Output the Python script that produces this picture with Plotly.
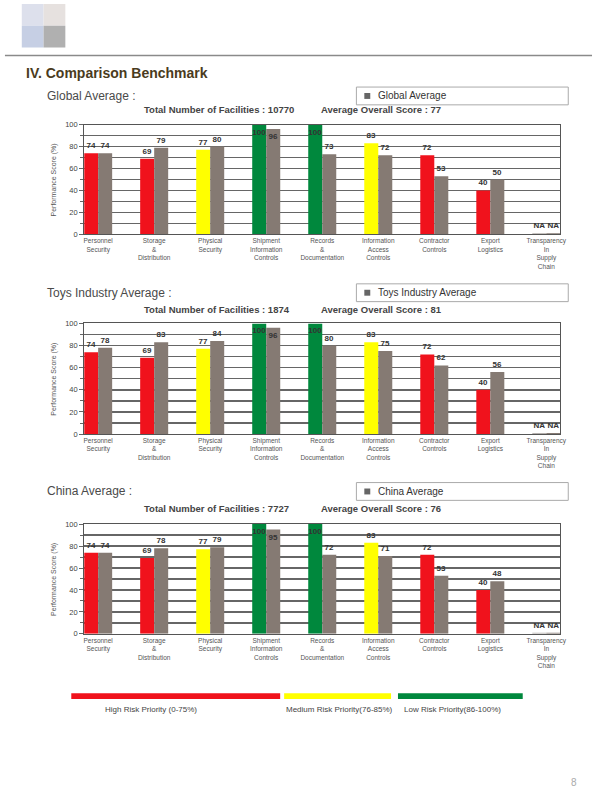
import plotly.graph_objects as go

W, H = 600, 803

# ---------------- data ----------------
categories = ["Personnel<br>Security", "Storage<br>&<br>Distribution", "Physical<br>Security",
              "Shipment<br>Information<br>Controls", "Records<br>&<br>Documentation",
              "Information<br>Access<br>Controls", "Contractor<br>Controls", "Export<br>Logistics",
              "Transparency<br>In<br>Supply<br>Chain"]
facility_score = [74, 69, 77, 100, 100, 83, 72, 40, None]
global_average = [74, 79, 80, 96, 73, 72, 53, 50, None]
toys_average = [78, 83, 84, 96, 80, 75, 62, 56, None]
china_average = [74, 78, 79, 95, 72, 71, 53, 48, None]

panel_names = ["Global Average", "Toys Industry Average", "China Average"]
facility_counts = [10770, 1874, 7727]
overall_scores = [77, 81, 76]
benchmarks = [global_average, toys_average, china_average]

risk_labels = ["High Risk Priority (0-75%)", "Medium Risk Priority(76-85%)", "Low Risk Priority(86-100%)"]
y_ticks = [0, 20, 40, 60, 80, 100]
y_minor = [10, 30, 50, 70, 90]

# ---------------- style ----------------
RED, YELLOW, GREEN = "#f0121c", "#ffff00", "#00883d"
GRAY = "#857a73"
NA_GRAY = "#b4b0ad"
NA_STUB = 1
FONT = "Liberation Sans, Arial, sans-serif"
LBL = "#333333"


def px(x):
    return x / W


def py(y):
    return 1 - y / H


def risk_color(v):
    if v is None:
        return NA_GRAY
    if v <= 75:
        return RED
    if v <= 85:
        return YELLOW
    return GREEN


plot_tops = [122, 323, 526]
plot_bottoms = [233, 435, 637]
section_y = [93, 292, 493]
subtitle_y = [107, 309, 510]

fig = go.Figure()
annotations = []
shapes = []
xs = list(range(len(categories)))

for i, bench in enumerate(benchmarks):
    sfx = "" if i == 0 else str(i + 1)
    for series, offset, colors in [
        (facility_score, -0.25, [risk_color(v) for v in facility_score]),
        (bench, 0.0, [GRAY for v in bench]),
    ]:
        vals = [NA_STUB if v is None else v for v in series]
        texts = ["NA" if v is None else str(v) for v in series]
        pos = ["inside" if (v is not None and v >= 95) else "outside" for v in series]
        lblfont = dict(family=FONT, size=8, color=LBL, weight="bold")
        fig.add_trace(go.Bar(
            x=xs, y=vals, width=0.25, offset=offset,
            marker=dict(color=colors, line=dict(width=0)),
            text=texts, textposition=pos, insidetextanchor="end", textangle=0,
            textfont=lblfont, insidetextfont=lblfont, outsidetextfont=lblfont,
            constraintext="none", cliponaxis=False,
            xaxis="x" + sfx, yaxis="y" + sfx, showlegend=False, hoverinfo="skip",
        ))

    ydom = [py(plot_bottoms[i]), py(plot_tops[i])]
    fig.update_layout(**{
        "xaxis" + sfx: dict(
            domain=[px(85), px(566)], range=[-0.25, 8.25], anchor="y" + sfx,
            tickmode="array", tickvals=xs, ticktext=categories,
            tickfont=dict(family=FONT, size=6.5, color="#555"),
            showline=True, linecolor="#555", linewidth=1, mirror=True,
            showgrid=False, ticks="", zeroline=False, fixedrange=True,
        ),
        "yaxis" + sfx: dict(
            domain=ydom, range=[0, 100], anchor="x" + sfx,
            tickmode="array", tickvals=y_ticks,
            tickfont=dict(family=FONT, size=7.5, color="#444"),
            ticks="outside", ticklen=4, tickcolor="#666",
            showline=True, linecolor="#555", linewidth=1, mirror=True,
            showgrid=True, gridcolor="#666666", gridwidth=1.5,
            minor=dict(tickvals=y_minor, ticks="outside", ticklen=3, tickcolor="#666",
                       showgrid=True, gridcolor="#666666", gridwidth=1.5),
            zeroline=False, fixedrange=True,
        ),
    })

    # y axis title
    annotations.append(dict(
        x=px(54.5), y=py((plot_tops[i] + plot_bottoms[i]) / 2), xref="paper", yref="paper",
        text="Performance Score (%)", textangle=-90, showarrow=False,
        font=dict(family=FONT, size=7, color="#555"), xanchor="center", yanchor="middle"))

    # section label
    annotations.append(dict(
        x=px(45), y=py(section_y[i]), xref="paper", yref="paper",
        text=panel_names[i] + " :", showarrow=False, xanchor="left", yanchor="middle",
        font=dict(family=FONT, size=12, color="#4a4a4a")))

    # subtitle texts
    annotations.append(dict(
        x=px(143), y=py(subtitle_y[i]), xref="paper", yref="paper",
        text="<b>Total Number of Facilities : %d</b>" % facility_counts[i], showarrow=False,
        xanchor="left", yanchor="middle", font=dict(family=FONT, size=9.5, color="#444")))
    annotations.append(dict(
        x=px(322), y=py(subtitle_y[i]), xref="paper", yref="paper",
        text="<b>Average Overall Score : %d</b>" % overall_scores[i], showarrow=False,
        xanchor="left", yanchor="middle", font=dict(family=FONT, size=9.5, color="#444")))

    # legend box
    by0, by1 = section_y[i] - 9, section_y[i] + 9
    shapes.append(dict(type="rect", xref="paper", yref="paper",
                       x0=px(360), x1=px(574), y0=py(by1), y1=py(by0),
                       line=dict(color="#aaaaaa", width=1), fillcolor="white"))
    shapes.append(dict(type="rect", xref="paper", yref="paper",
                       x0=px(368), x1=px(374), y0=py(section_y[i] + 3), y1=py(section_y[i] - 3),
                       line=dict(width=0), fillcolor="#666666"))
    annotations.append(dict(
        x=px(380), y=py(section_y[i]), xref="paper", yref="paper",
        text=panel_names[i], showarrow=False, xanchor="left", yanchor="middle",
        font=dict(family=FONT, size=10, color="#333")))

# logo blocks
logo = [(22, 44, 0, 22, "#dde0ec"), (44, 66, 0, 22, "#e6e1df"),
        (22, 44, 22, 44, "#c6cfe4"), (44, 66, 22, 44, "#b0b0b0")]
for x0, x1, y0, y1, c in logo:
    shapes.append(dict(type="rect", xref="paper", yref="paper", x0=px(x0), x1=px(x1),
                       y0=py(y1), y1=py(y0), line=dict(width=0), fillcolor=c, layer="below"))

# header rule
shapes.append(dict(type="line", xref="paper", yref="paper", x0=px(5), x1=px(598),
                   y0=py(52), y1=py(52), line=dict(color="#8a8a8a", width=1.5)))
annotations.append(dict(
    x=px(24), y=py(70), xref="paper", yref="paper", text="<b>IV. Comparison Benchmark</b>",
    showarrow=False, xanchor="left", yanchor="middle",
    font=dict(family=FONT, size=14, color="#4a3b20")))

# risk legend at bottom
legend_bars = [(72, 283, RED), (287, 395, YELLOW), (402, 528, GREEN)]
legend_text_x = [104, 287, 406]
for (x0, x1, c), lbl, tx in zip(legend_bars, risk_labels, legend_text_x):
    shapes.append(dict(type="rect", xref="paper", yref="paper", x0=px(x0), x1=px(x1),
                       y0=py(703), y1=py(697), line=dict(width=0), fillcolor=c))
    annotations.append(dict(x=px(tx), y=py(713), xref="paper", yref="paper", text=lbl,
                            showarrow=False, xanchor="left", yanchor="middle",
                            font=dict(family=FONT, size=8, color="#444")))

annotations.append(dict(x=px(580), y=py(787), xref="paper", yref="paper", text="8",
                        showarrow=False, xanchor="center", yanchor="middle",
                        font=dict(family=FONT, size=10, color="#aaaaaa")))

fig.update_layout(
    width=W, height=H, margin=dict(l=0, r=0, t=0, b=0),
    paper_bgcolor="white", plot_bgcolor="white",
    barmode="overlay", showlegend=False,
    annotations=annotations, shapes=shapes,
    font=dict(family=FONT, color="#333333"),
)

fig.write_html("out.html",
               config={"displayModeBar": False, "staticPlot": True},
               post_script="document.body.style.margin='0';document.body.style.overflow='hidden';")
